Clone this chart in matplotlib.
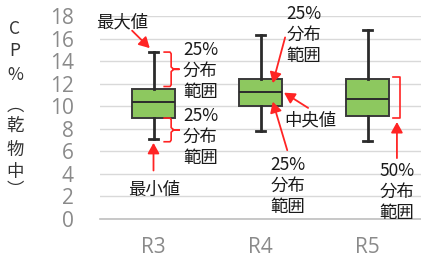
import matplotlib
matplotlib.use("Agg")
import matplotlib.pyplot as plt

plt.rcParams['font.family'] = ['Noto Sans CJK JP', 'DejaVu Sans']

# box plot values
labels = ["R3", "R4", "R5"]
whislo = [7.1, 7.8, 6.9]
q1 = [9.0, 10.0, 9.1]
med = [10.4, 11.3, 10.6]
q3 = [11.5, 12.4, 12.4]
whishi = [14.8, 16.3, 16.8]

yticks = list(range(0, 19, 2))
ylabel_chars = ["C", "P", "%", "︵", "乾", "物", "中", "︶"]
ylabel_py = [29, 51, 75, 106, 126, 150, 172, 190]

RED = "#ff2424"
GREEN = "#8dc85f"
DARK = "#2b2b2b"

fig = plt.figure(figsize=(4.21, 2.6), dpi=100)
ax = fig.add_axes([100 / 421, 41 / 260, 321 / 421, 203 / 260])

stats = []
for i in range(len(labels)):
    stats.append(dict(label=labels[i], whislo=whislo[i], q1=q1[i], med=med[i],
                      q3=q3[i], whishi=whishi[i], fliers=[]))

ax.bxp(stats, positions=range(len(labels)), widths=0.41, patch_artist=True,
       showfliers=False, capwidths=0.085,
       boxprops=dict(facecolor=GREEN, edgecolor="#3a3a3a", linewidth=1.4),
       whiskerprops=dict(color=DARK, linewidth=2),
       capprops=dict(color=DARK, linewidth=2),
       medianprops=dict(color=DARK, linewidth=1.4))

ax.set_xlim(-0.5, 2.5)
ax.set_ylim(0, 18)
ax.set_yticks(yticks)
ax.yaxis.grid(True, color="#d9d9d9", linewidth=1)
ax.set_axisbelow(True)
for s in ["top", "right", "left"]:
    ax.spines[s].set_visible(False)
ax.spines["bottom"].set_color("#bfbfbf")
ax.spines["bottom"].set_linewidth(1.2)
ax.tick_params(length=0)
ax.tick_params(axis="y", pad=19, labelsize=15, labelcolor="#8a8a8a")
ax.tick_params(axis="x", pad=13, labelsize=15, labelcolor="#8a8a8a")
for t in ax.get_xticklabels() + ax.get_yticklabels():
    t.set_family("Open Sans")

# vertical y label
for ch, py in zip(ylabel_chars, ylabel_py):
    fig.text(15 / 421, 1 - py / 260, ch, ha="center", va="center",
             fontsize=12.5, color="#333333")

arrow = dict(arrowstyle="-|>,head_length=0.45,head_width=0.25", color=RED,
             lw=1.3, shrinkA=0, shrinkB=0, mutation_scale=14)
txt = dict(fontsize=12.5, color="#1a1a1a", linespacing=1.22)


def arr(tail, head):
    ax.annotate("", xy=head, xytext=tail, arrowprops=arrow)


def brace(x0, x1, top, bot, tick=None):
    mid = (top + bot) / 2
    if tick is None:
        ax.plot([x0, x1, x1, x0], [top, top, bot, bot], color=RED, lw=1.2,
                solid_joinstyle="round")
    else:
        xs = [x0, x1 - 0.01, x1, x1, x1 + 0.025, tick, x1 + 0.025, x1, x1, x1 - 0.01, x0]
        ys = [top, top, top - 0.15, mid + 0.2, mid, mid, mid, mid - 0.2, bot + 0.15, bot, bot]
        ax.plot(xs, ys, color=RED, lw=1.2, solid_joinstyle="round")


# R3
ax.text(-0.29, 17.4, "最大値", ha="center", va="center", **txt)
arr((-0.20, 16.7), (-0.035, whishi[0] + 0.35))
brace(0.10, 0.165, whishi[0], q3[0] + 0.25, tick=0.24)
ax.text(0.275, 13.15, "25%\n分布\n範囲", ha="left", va="center", **txt)
brace(0.10, 0.165, q1[0] - 0.05, whislo[0] - 0.25, tick=0.24)
ax.text(0.275, 7.25, "25%\n分布\n範囲", ha="left", va="center", **txt)
arr((0.0, 4.3), (0.0, whislo[0] - 0.35))
ax.text(0.005, 2.55, "最小値", ha="center", va="center", **txt)

# R4
ax.text(1.245, 16.3, "25%\n分布\n範囲", ha="left", va="center", **txt)
arr((1.23, 16.1), (1.115, 12.05))
ax.text(1.22, 8.7, "中央値", ha="left", va="center", **txt)
arr((1.445, 9.85), (1.22, med[1] - 0.1))
arr((1.25, 6.1), (1.115, 10.4))
ax.text(1.09, 2.95, "25%\n分布\n範囲", ha="left", va="center", **txt)

# R5
brace(2.24, 2.305, q3[2] + 0.15, q1[2] - 0.1)
arr((2.275, 5.4), (2.275, q1[2] - 0.5))
ax.text(2.275, 2.4, "50%\n分布\n範囲", ha="center", va="center", **txt)

fig.savefig("out.png", dpi=100)
